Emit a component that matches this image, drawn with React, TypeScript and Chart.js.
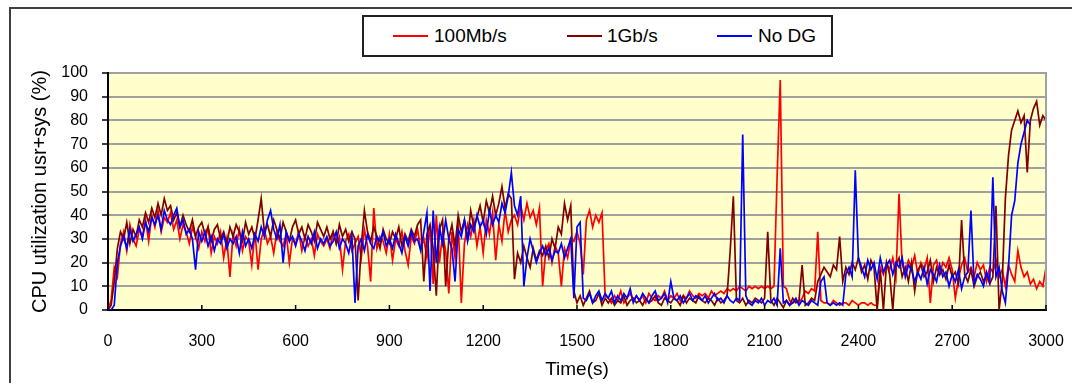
import { useEffect, useRef } from 'react';
import { Chart, registerables } from 'chart.js';

Chart.register(...registerables);

// Sampling interval of the series (seconds)
const SAMPLE_STEP_S = 10;

const xTickValues = [0, 300, 600, 900, 1200, 1500, 1800, 2100, 2400, 2700, 3000];
const yTickValues = [0, 10, 20, 30, 40, 50, 60, 70, 80, 90, 100];

const seriesNames = ['100Mb/s', '1Gb/s', 'No DG'];

// CPU utilization (%) sampled every 10 s, t = 0 .. 3000
const red100Mb = [
  0, 4, 18, 14, 28, 33, 25, 36, 30, 27,
  34, 31, 38, 29, 40, 35, 42, 33, 39, 37,
  41, 34, 38, 30, 36, 33, 28, 35, 31, 26,
  33, 29, 35, 24, 31, 28, 33, 22, 30, 14,
  32, 27, 34, 25, 31, 29, 19, 33, 17, 30,
  34, 28, 31, 24, 33, 29, 27, 32, 20, 30,
  28, 33, 25, 31, 27, 30, 23, 32, 29, 27,
  30, 26, 33, 28, 31, 17, 29, 32, 25, 28,
  31, 22, 34, 27, 12, 43, 26, 31, 29, 24,
  32, 21, 30, 27, 33, 25, 19, 31, 28, 34,
  26, 30, 22, 36, 11, 40, 20, 32, 25, 7,
  33, 22, 37, 3, 28, 36, 31, 38, 27, 35,
  24, 38, 32, 41, 21, 36, 29, 42, 33, 38,
  40, 36, 44, 38, 45, 39, 42, 36, 43, 10,
  25, 28, 20, 27, 24, 10, 26, 22, 30, 29,
  33, 28, 15, 38, 42, 35, 40, 37, 41, 6,
  5, 3, 6, 4, 8, 3, 5, 7, 4, 6,
  4, 6, 3, 7, 5, 4, 6, 5, 8, 4,
  6, 5, 7, 4, 6, 5, 8, 6, 5, 7,
  6, 7, 5, 8, 6, 7, 8, 7, 9, 8,
  9, 8, 10, 9, 8, 10, 9, 10, 9, 10,
  9, 10, 9, 10, 56, 97, 10, 9, 4, 3,
  4, 3, 5, 8, 7, 9, 8, 33, 4, 3,
  3, 2, 4, 3, 2, 3, 3, 2, 4, 3,
  2, 3, 3, 2, 3, 2, 2, 18, 15, 20,
  17, 22, 14, 49, 19, 16, 21, 18, 23, 15,
  20, 17, 22, 3, 19, 21, 15, 20, 18, 22,
  17, 5, 13, 19, 22, 16, 18, 14, 20, 17,
  19, 12, 18, 16, 21, 14, 17, 10, 19, 15,
  12, 25, 18, 14, 16, 11, 13, 9, 12, 10,
  18,
];

const brown1Gb = [
  0, 2, 12, 26, 33, 30, 37, 28, 34, 31,
  38, 35, 41, 37, 43, 39, 45, 40, 47, 42,
  44, 38, 41, 35, 40, 36, 33, 38, 31, 35,
  37, 32, 35, 29, 34, 36, 30, 33, 28, 35,
  31, 36, 33, 29, 37, 32, 35, 30, 38, 47,
  33, 36, 31, 38, 34, 30, 37, 33, 29, 35,
  38, 32, 35, 30, 36, 33, 29, 37, 34, 31,
  35, 30, 33, 28, 36, 31, 34, 29, 33, 30,
  4, 27, 42, 33, 29, 35, 31, 26, 34, 30,
  28, 33, 30, 35, 27, 32, 29, 34, 31, 36,
  38, 12, 32, 36, 26, 6, 34, 38, 10, 30,
  36, 27, 40, 33, 38, 30, 42, 35, 39, 44,
  37, 46, 41, 48, 40, 45, 52, 43, 49, 47,
  13, 24, 20, 27, 22, 18, 26, 21, 25, 23,
  27, 22, 30, 26, 35, 32, 45, 38, 44, 8,
  3, 6, 2, 5, 8, 3, 4, 7, 2, 5,
  3, 5, 2, 4, 3, 6, 2, 4, 5, 3,
  4, 2, 5, 3, 4, 6, 3, 2, 5, 4,
  3, 5, 4, 2, 6, 3, 5, 4, 3, 6,
  4, 3, 5, 4, 2, 5, 3, 4, 6, 25,
  48, 4, 3, 5, 2, 4, 3, 5, 4, 3,
  5, 33, 4, 2, 5, 3, 1, 4, 2, 5,
  3, 4, 19, 2, 3, 5, 4, 12, 15, 18,
  16, 14, 19, 17, 31, 12, 18, 15, 20, 17,
  22, 16, 19, 13, 21, 18, 0, 17, 0, 20,
  15, 0, 19, 22, 14, 18, 12, 20, 8, 17,
  19, 14, 16, 21, 12, 18, 15, 17, 13, 19,
  14, 16, 11, 38, 15, 12, 17, 10, 14, 16,
  12, 15, 11, 14, 44, 0, 12, 47, 65, 76,
  80, 84, 79, 82, 58, 80, 85, 88, 78, 82,
  80,
];

const blueNoDG = [
  0, 0, 2, 20, 27, 31, 26, 34, 29, 32,
  35, 30, 37, 33, 39, 36, 40, 34, 42, 38,
  36, 40, 43, 35, 38, 32, 34, 30, 17, 33,
  29, 33, 27, 31, 25, 30, 28, 32, 26, 30,
  28, 31, 24, 33, 27, 30, 26, 32, 29, 35,
  31, 38, 42, 34, 30, 36, 20, 33, 29, 31,
  27, 32, 29, 25, 31, 28, 33, 26, 30, 28,
  31, 27, 29, 33, 26, 30, 28, 24, 31, 3,
  27, 30, 25, 32, 28, 26, 31, 29, 33, 27,
  30, 26, 32, 28, 24, 31, 27, 33, 29, 30,
  25, 33, 41, 8, 42, 20, 35, 28, 38, 30,
  26, 12, 34, 31, 38, 29, 36, 33, 40, 35,
  38, 32, 42, 36, 40, 37, 45, 41, 48, 58,
  44, 40, 48, 10, 22, 30, 25, 20, 24, 27,
  23, 26, 21, 25, 24, 28, 22, 26, 30, 5,
  35, 37, 5, 4, 7, 3, 6, 8, 4, 7,
  5, 8, 3, 6, 4, 7, 5, 9, 3, 6,
  4, 7, 5, 3, 6, 8, 4, 5, 7, 3,
  12, 5, 4, 6, 3, 5, 7, 4, 6, 5,
  4, 6, 3, 5, 7, 4, 5, 3, 6, 4,
  3, 5, 4, 74, 6, 3, 2, 4, 3, 5,
  2, 4, 3, 5, 2, 26, 3, 4, 2, 3,
  5, 2, 4, 3, 2, 4, 3, 2, 12, 14,
  3, 2, 3, 2, 3, 2, 15, 18, 14, 59,
  22, 18, 14, 21, 17, 20, 13, 22, 16, 19,
  21, 15, 20, 18, 22, 14, 19, 17, 12, 16,
  13, 18, 11, 17, 15, 12, 19, 14, 16, 10,
  15, 12, 17, 9, 14, 16, 42, 11, 15, 13,
  10, 16, 12, 56, 14, 18, 8, 3, 18, 40,
  46, 62, 70, 75, 80, 78, null, null, null, null,
  null,
];

const COLORS = ['#ff0000', '#800000', '#0000ff'];
const FONT = "'Liberation Sans', Arial, Helvetica, sans-serif";

const toPoints = (arr: (number | null)[]) =>
  arr.map((y, i) => ({ x: i * SAMPLE_STEP_S, y }));

export default function App() {
  const canvasRef = useRef<HTMLCanvasElement | null>(null);

  useEffect(() => {
    if (!canvasRef.current) return;

    const plotDecor = {
      id: 'plotDecor',
      beforeDraw(chart: any) {
        const { ctx, chartArea } = chart;
        ctx.save();
        ctx.fillStyle = '#ffffcc';
        ctx.fillRect(chartArea.left, chartArea.top, chartArea.right - chartArea.left, chartArea.bottom - chartArea.top);
        ctx.restore();
      },
      afterDraw(chart: any) {
        const { ctx, chartArea, scales } = chart;
        ctx.save();
        ctx.strokeStyle = '#a0a0a0';
        ctx.lineWidth = 2;
        ctx.beginPath();
        ctx.moveTo(chartArea.right, chartArea.top - 1);
        ctx.lineTo(chartArea.right, chartArea.bottom);
        ctx.stroke();
        ctx.strokeStyle = '#000';
        ctx.lineWidth = 1.5;
        xTickValues.forEach((v) => {
          const px = scales.x.getPixelForValue(v);
          ctx.beginPath();
          ctx.moveTo(px, chartArea.bottom);
          ctx.lineTo(px, chartArea.bottom - 5);
          ctx.stroke();
        });
        ctx.restore();
      },
    };

    const tickFont = { family: FONT, size: 16 };

    const chart = new Chart(canvasRef.current, {
      type: 'line',
      data: {
        datasets: [
          { label: seriesNames[0], data: toPoints(red100Mb), borderColor: COLORS[0], order: 3 },
          { label: seriesNames[1], data: toPoints(brown1Gb), borderColor: COLORS[1], order: 2 },
          { label: seriesNames[2], data: toPoints(blueNoDG), borderColor: COLORS[2], order: 1 },
        ].map((d) => ({
          ...d,
          borderWidth: 1.7,
          pointRadius: 0,
          tension: 0,
          spanGaps: false,
          fill: false,
        })) as any,
      },
      options: {
        responsive: false,
        animation: false,
        devicePixelRatio: 1,
        layout: { padding: { top: 73, right: 26, left: 0, bottom: 0 } },
        plugins: {
          legend: { display: false },
          tooltip: { enabled: false },
        },
        scales: {
          x: {
            type: 'linear',
            min: 0,
            max: 3000,
            afterBuildTicks: (s: any) => {
              s.ticks = xTickValues.map((v) => ({ value: v }));
            },
            afterFit: (s: any) => {
              s.height = 73;
              s.paddingLeft = 0;
              s.paddingRight = 0;
            },
            grid: { display: false, drawTicks: false },
            border: { display: true, color: '#000', width: 2 },
            ticks: {
              padding: 22,
              font: tickFont,
              color: '#000',
              maxRotation: 0,
              autoSkip: false,
              callback: (v: any) => String(v),
            },
            title: {
              display: true,
              text: 'Time(s)',
              color: '#000',
              font: { family: FONT, size: 19 },
              padding: { top: 0, bottom: 2 },
            },
          },
          y: {
            type: 'linear',
            min: 0,
            max: 100,
            afterBuildTicks: (s: any) => {
              s.ticks = yTickValues.map((v) => ({ value: v }));
            },
            afterFit: (s: any) => {
              s.width = 108;
            },
            grid: {
              color: (c: any) => (c.tick && c.tick.value === 0 ? 'rgba(0,0,0,0)' : '#a0a0a0'),
              lineWidth: 2,
              drawTicks: true,
              tickLength: 6,
              tickColor: '#404040',
            },
            border: { display: true, color: '#000', width: 2 },
            ticks: {
              padding: 14,
              font: tickFont,
              color: '#000',
              autoSkip: false,
              callback: (v: any) => String(v),
            },
            title: {
              display: true,
              text: 'CPU utilization usr+sys (%)',
              color: '#000',
              font: { family: FONT, size: 20 },
              padding: { top: 28, bottom: 0 },
            },
          },
        },
      },
      plugins: [plotDecor],
    });

    return () => chart.destroy();
  }, []);

  const legendItems = [
    { name: seriesNames[0], color: COLORS[0], lineX: 393, textX: 434 },
    { name: seriesNames[1], color: COLORS[1], lineX: 567, textX: 607 },
    { name: seriesNames[2], color: COLORS[2], lineX: 717, textX: 758 },
  ];

  return (
    <div style={{ position: 'fixed', left: 0, top: 0, width: 1072, height: 383, background: '#fff', overflow: 'hidden', fontFamily: FONT }}>
      <div
        style={{
          position: 'absolute',
          left: 9,
          top: 7,
          width: 1100,
          height: 400,
          borderTop: '2px solid #404040',
          borderLeft: '2px solid #404040',
        }}
      />
      <canvas ref={canvasRef} width={1072} height={383} style={{ position: 'absolute', left: 0, top: 0 }} />
      <div
        style={{
          position: 'absolute',
          left: 362,
          top: 15,
          width: 467,
          height: 38,
          border: '2px solid #202020',
          background: '#fff',
        }}
      />
      {legendItems.map((it) => (
        <div key={it.name}>
          <div
            style={{
              position: 'absolute',
              left: it.lineX,
              top: 35,
              width: 35,
              height: 2,
              background: it.color,
            }}
          />
          <div
            style={{
              position: 'absolute',
              left: it.textX,
              top: 24,
              fontSize: 19,
              lineHeight: '24px',
              color: '#000',
              whiteSpace: 'nowrap',
            }}
          >
            {it.name}
          </div>
        </div>
      ))}
    </div>
  );
}
